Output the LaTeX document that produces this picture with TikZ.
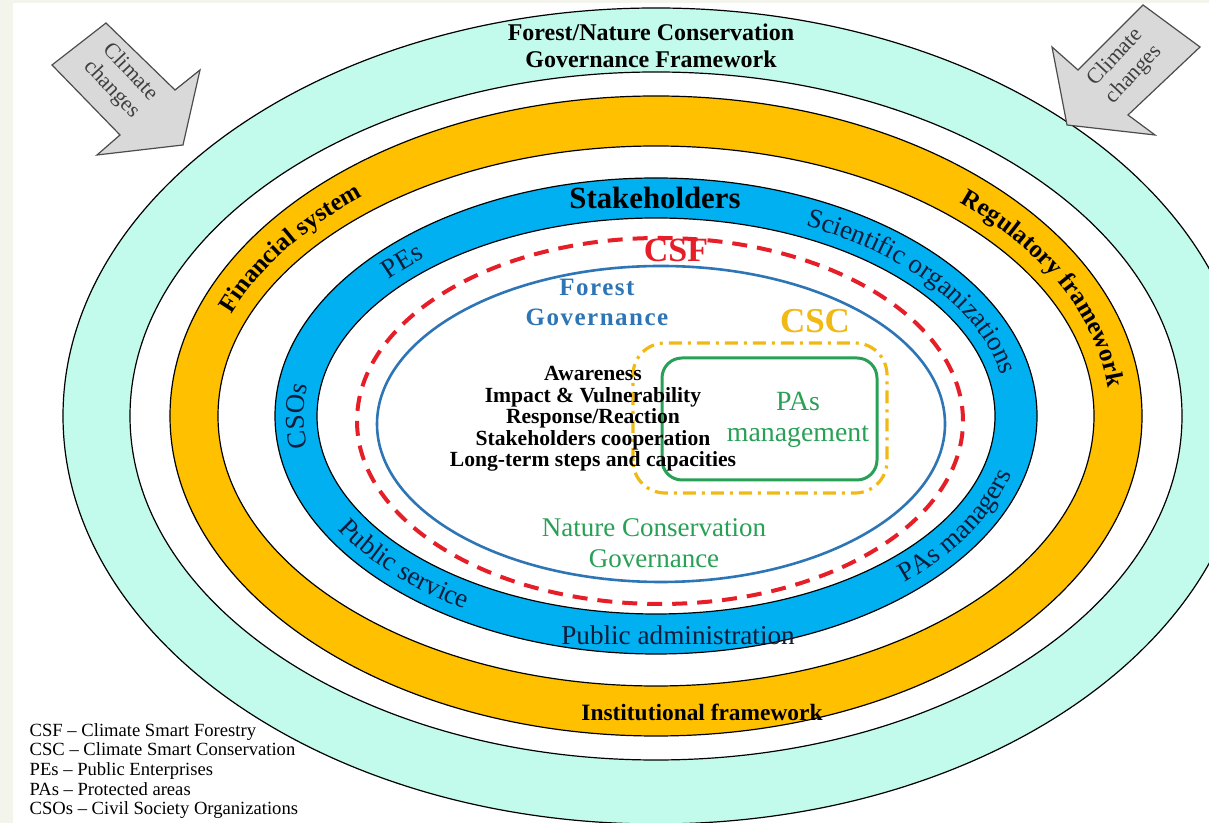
\documentclass[tikz,border=0pt]{standalone}
\usepackage{fontspec}
\setmainfont{Liberation Serif}
\usepackage{tikz}
\usetikzlibrary{calc}
\usetikzlibrary{decorations.text}

\definecolor{ringteal}{RGB}{194,250,236}
\definecolor{ringgold}{RGB}{255,192,0}
\definecolor{ringblue}{RGB}{0,176,240}
\definecolor{csfred}{RGB}{230,30,40}
\definecolor{govblue}{RGB}{46,117,182}
\definecolor{cscgold}{RGB}{240,185,20}
\definecolor{pagreen}{RGB}{40,160,85}
\definecolor{bandtext}{RGB}{12,28,60}
\definecolor{edgegray}{RGB}{243,245,236}
\definecolor{arrowgray}{RGB}{217,217,217}

\begin{document}
\begin{tikzpicture}[x=0.5pt, y=0.5pt,
	ring/.style={draw=black, line width=0.6pt},
	bandword/.style={decorate, decoration={text along path, text align=center, text color=bandtext, text={|\fontsize{13.5}{15}\selectfont|#1}}},
	goldword/.style={decorate, decoration={text along path, text align=center, text color=black, text={|\bfseries\fontsize{12.5}{14}\selectfont|#1}}},
	climarrow/.style={fill=arrowgray, draw=black!70, line width=0.6pt}]
				\useasboundingbox (0,0) rectangle (1209,823);
				\fill [edgegray] (0,0) rectangle (1209,823);
				\fill [white] (13,0) rectangle (1209,820);
				
				\coordinate (C) at (656,407);
				\begin{scope}
				\clip (13,0) rectangle (1209,820);
				\filldraw [ring, fill=ringteal] (C) ellipse [x radius=593, y radius=408];
				\filldraw [ring, fill=white] (C) ellipse [x radius=526, y radius=344];
				\filldraw [ring, fill=ringgold] (C) ellipse [x radius=486, y radius=320];
				\filldraw [ring, fill=white] (C) ellipse [x radius=438, y radius=270];
				\filldraw [ring, fill=ringblue] (C) ellipse [x radius=381, y radius=238];
				\filldraw [ring, fill=white] (C) ellipse [x radius=339, y radius=198];
				\end{scope}
				
				\draw [csfred, line width=2pt, dash pattern=on 7.5pt off 5pt] (660,402) ellipse [x radius=303, y radius=183];
				\draw [govblue, line width=1.3pt] (661,399) ellipse [x radius=284, y radius=158];
				\draw [cscgold, line width=1.6pt, dash pattern=on 6.5pt off 3pt on 1.5pt off 3pt, rounded corners=16pt] (633,330) rectangle (887,480);
				\draw [pagreen, line width=1.5pt, rounded corners=10pt] (662,343) rectangle (877,465);
				
				% % % % % % % % % % % % % % % % % % % % % % % % % %
				
				\filldraw [climarrow] (52,758) -- (106,800) -- (175,733) -- (200,753) -- (183,678) -- (97,668) -- (120,688) -- cycle;
				\filldraw [climarrow] (1143,818) -- (1200,776) -- (1128,708) -- (1155,688) -- (1067,698) -- (1052,776) -- (1078,753) -- cycle;
				\node [rotate=-47, align=center, text=black!75, font=\fontsize{11}{12.7}\selectfont] (climL) at (121,742) {Climate\\changes};
				\node [rotate=47, align=center, text=black!75, font=\fontsize{11}{12.7}\selectfont] (climR) at (1125,757) {Climate\\changes};
				
				\node [align=center, font=\bfseries\fontsize{12}{13.5}\selectfont] (title) at (651,777) {Forest/Nature Conservation\\Governance Framework};
				\node [font=\bfseries\fontsize{15.4}{17}\selectfont] (stake) at (655,625) {Stakeholders};
				\node [text=csfred, font=\bfseries\fontsize{17}{19}\selectfont] (csf) at (676,573) {CSF};
				\node [text=govblue, align=center, font=\bfseries\fontsize{12.5}{15}\selectfont\addfontfeature{LetterSpace=6}] (forgov) at (597,521) {Forest\\Governance};
				\node [text=cscgold, font=\bfseries\fontsize{17.5}{19}\selectfont] (csc) at (815,502) {CSC};
				\node [align=center, font=\bfseries\fontsize{10.8}{10.75}\selectfont] (aims) at (593,404) {Awareness\\Impact \& Vulnerability\\Response/Reaction\\Stakeholders cooperation\\Long-term steps and capacities};
				\node [text=pagreen, align=center, font=\fontsize{13.9}{15.5}\selectfont] (pasman) at (798,403) {PAs\\management};
				\node [text=pagreen, align=center, font=\fontsize{13.5}{15.5}\selectfont] (natgov) at (654,280) {Nature Conservation\\Governance};
				\node [text=bandtext, font=\fontsize{13.6}{15}\selectfont] (pubadm) at (678,188) {Public administration};
				\node [font=\bfseries\fontsize{11.7}{13}\selectfont] (instfw) at (702,111) {Institutional framework};
				
				\path [goldword={Financial system}] ($(C)+(182:454 and 287)$) arc [start angle=182, end angle=114, x radius=454, y radius=287];
				\path [goldword={Regulatory framework}] ($(C)+(62:454 and 287)$) arc [start angle=62, end angle=-14, x radius=454, y radius=287];
				\path [bandword={Scientific organizations}] ($(C)+(75:352 and 210)$) arc [start angle=75, end angle=-5, x radius=352, y radius=210];
				\path [bandword={PEs}] ($(C)+(150:352 and 210)$) arc [start angle=150, end angle=122, x radius=352, y radius=210];
				\path [bandword={CSOs}] ($(C)+(200:352 and 210)$) arc [start angle=200, end angle=160, x radius=352, y radius=210];
				\path [bandword={Public service}] ($(C)+(199:368 and 226)$) arc [start angle=199, end angle=247, x radius=368, y radius=226];
				\path [bandword={PAs managers}] ($(C)+(-54:368 and 226)$) arc [start angle=-54, end angle=-6, x radius=368, y radius=226];
				
				\footnotesize
				\node [anchor=west, align=left, font=\fontsize{9.3}{9.8}\selectfont] (legend) at (24,52) {CSF – Climate Smart Forestry\\CSC – Climate Smart Conservation\\PEs – Public Enterprises\\PAs – Protected areas\\CSOs – Civil Society Organizations};
\end{tikzpicture}
\end{document}
